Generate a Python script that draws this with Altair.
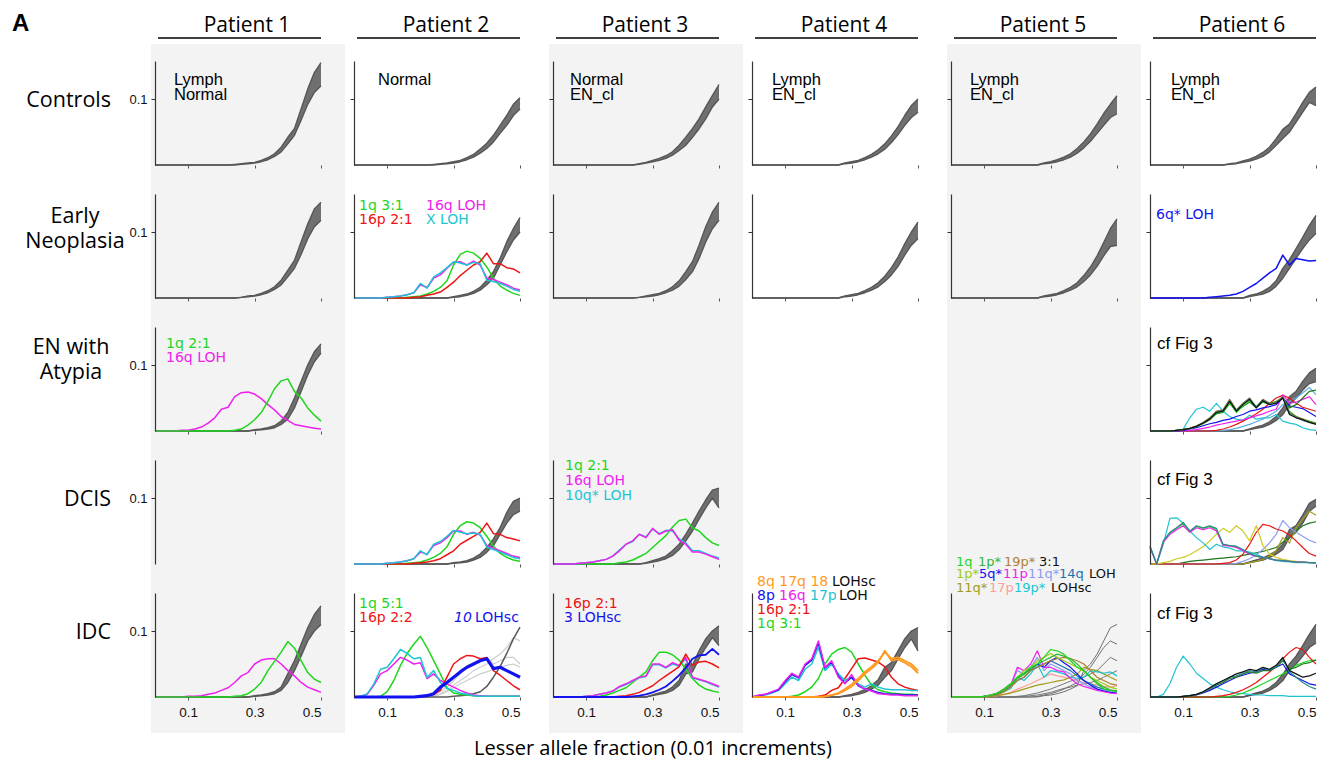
import altair as alt
import pandas as pd

# ---------------- data ----------------
X = [0.00, 0.02, 0.04, 0.06, 0.08, 0.10, 0.12, 0.14, 0.16, 0.18, 0.20, 0.22, 0.24,
     0.26, 0.28, 0.30, 0.32, 0.34, 0.36, 0.38, 0.40, 0.42, 0.44, 0.46, 0.48, 0.50]
X_TICKS = [0.1, 0.3, 0.5]
Y_TICKS = [0.1]
PATIENTS = ["Patient 1", "Patient 2", "Patient 3", "Patient 4", "Patient 5", "Patient 6"]
STAGES = [["Controls"], ["Early", "Neoplasia"], ["EN with", "Atypia"], ["DCIS"], ["IDC"]]
X_TITLE = "Lesser allele fraction (0.01 increments)"

# Controls
P1C_LO = [0,0,0,0,0,0,0,0,0,0,0,0,0,.001,.002,.003,.005,.008,.013,.02,.032,.045,.068,.092,.11,.12]
P1C_HI = [0,0,0,0,0,0,0,0,0,0,0,0,.001,.002,.003,.004,.007,.011,.017,.027,.042,.055,.085,.115,.14,.155]
P2C_LO = [0,0,0,0,0,0,0,0,0,0,0,0,0,.001,.002,.003,.005,.008,.012,.018,.025,.035,.048,.06,.075,.085]
P2C_HI = [0,0,0,0,0,0,0,0,0,0,0,0,.001,.002,.003,.005,.007,.011,.016,.024,.033,.045,.06,.075,.092,.102]
P3C_LO = [0,0,0,0,0,0,0,0,0,0,0,0,0,.001,.003,.005,.007,.01,.015,.022,.03,.042,.055,.07,.088,.1]
P3C_HI = [0,0,0,0,0,0,0,0,0,0,0,0,0,.002,.004,.007,.01,.014,.02,.03,.042,.055,.07,.088,.105,.122]
P4C_LO = [0,0,0,0,0,0,0,0,0,0,0,0,0,0,.002,.003,.005,.008,.012,.017,.024,.034,.046,.06,.072,.08]
P4C_HI = [0,0,0,0,0,0,0,0,0,0,0,0,0,0,.003,.005,.007,.011,.016,.023,.032,.044,.058,.075,.09,.1]
P5C_LO = [0,0,0,0,0,0,0,0,0,0,0,0,0,0,.002,.003,.005,.008,.012,.018,.026,.036,.048,.06,.072,.078]
P5C_HI = [0,0,0,0,0,0,0,0,0,0,0,0,0,0,.003,.005,.008,.012,.017,.025,.035,.047,.062,.078,.092,.105]
P6C_LO = [0,0,0,0,0,0,0,0,0,0,0,0,.001,.002,.004,.006,.009,.013,.02,.03,.04,.05,.065,.08,.095,.09]
P6C_HI = [0,0,0,0,0,0,0,0,0,0,0,0,.002,.003,.006,.009,.013,.019,.027,.04,.054,.062,.078,.095,.11,.118]

# Early neoplasia
P1E_LO = [0,0,0,0,0,0,0,0,0,0,0,0,0,.001,.002,.003,.005,.008,.013,.02,.032,.045,.066,.09,.108,.118]
P1E_HI = [0,0,0,0,0,0,0,0,0,0,0,0,0,.001,.003,.004,.007,.011,.017,.027,.042,.057,.085,.112,.135,.145]
P2E_LO = [0,0,0,0,0,0,0,0,0,0,0,0,0,0,0,.001,.002,.004,.007,.012,.02,.03,.05,.07,.088,.1]
P2E_HI = [0,0,0,0,0,0,0,0,0,0,0,0,0,0,0,.002,.004,.006,.01,.016,.027,.04,.06,.085,.105,.122]
P2E_GREEN = [0,0,0,0,0,0,0,0,.001,.002,.003,.006,.010,.016,.026,.05,.066,.071,.068,.06,.047,.03,.018,.012,.007,.004]
P2E_MAGENTA = [0,0,0,0,0,.001,.002,.003,.005,.008,.02,.016,.03,.035,.045,.054,.055,.05,.056,.05,.03,.028,.024,.02,.015,.012]
P2E_CYAN = [0,0,0,0,0,.001,.002,.003,.005,.008,.022,.015,.032,.038,.046,.055,.053,.05,.054,.052,.027,.025,.022,.018,.013,.010]
P2E_RED = [0,0,0,0,0,0,0,0,0,.001,.002,.004,.006,.009,.016,.024,.034,.042,.05,.055,.068,.052,.052,.046,.044,.038]
P3E_LO = [0,0,0,0,0,0,0,0,0,0,0,0,0,.001,.002,.003,.005,.008,.012,.018,.028,.04,.06,.085,.105,.118]
P3E_HI = [0,0,0,0,0,0,0,0,0,0,0,0,0,.001,.003,.005,.007,.011,.017,.026,.04,.055,.08,.108,.13,.145]
P4E_LO = [0,0,0,0,0,0,0,0,0,0,0,0,0,0,.002,.003,.005,.008,.012,.017,.025,.035,.048,.065,.08,.09]
P4E_HI = [0,0,0,0,0,0,0,0,0,0,0,0,0,0,.003,.005,.007,.011,.016,.023,.033,.046,.062,.082,.1,.115]
P5E_LO = [0,0,0,0,0,0,0,0,0,0,0,0,0,0,.002,.003,.005,.008,.012,.017,.025,.035,.048,.064,.078,.08]
P5E_HI = [0,0,0,0,0,0,0,0,0,0,0,0,0,0,.003,.005,.007,.011,.016,.023,.034,.047,.064,.084,.105,.12]
P6E_LO = [0,0,0,0,0,0,0,0,0,0,0,0,0,0,0,.002,.004,.006,.01,.018,.03,.045,.06,.075,.088,.098]
P6E_HI = [0,0,0,0,0,0,0,0,0,0,0,0,0,0,0,.004,.006,.01,.016,.026,.045,.058,.075,.092,.11,.125]
P6E_BLUE = [0,0,0,0,0,0,0,0,0,.001,.002,.003,.004,.006,.01,.016,.022,.03,.038,.045,.065,.05,.06,.058,.056,.057]

# EN with atypia
P1A_LO = [0,0,0,0,0,0,0,0,0,0,0,0,0,0,0,.001,.002,.003,.005,.01,.018,.035,.06,.085,.105,.118]
P1A_HI = [0,0,0,0,0,0,0,0,0,0,0,0,0,0,0,.002,.003,.005,.008,.015,.028,.05,.075,.1,.12,.132]
P1A_GREEN = [0,0,0,0,0,0,0,0,0,0,0,0,.001,.003,.009,.017,.028,.045,.064,.076,.079,.06,.05,.035,.024,.015]
P1A_MAGENTA = [0,0,0,0,.001,.001,.003,.006,.012,.02,.033,.036,.052,.058,.059,.056,.049,.04,.032,.022,.016,.01,.008,.006,.004,.003]
P6A_LO = [0,0,0,0,0,0,0,0,0,0,0,0,0,0,0,.002,.004,.006,.01,.016,.025,.04,.05,.062,.072,.075]
P6A_HI = [0,0,0,0,0,0,0,0,0,0,0,0,0,0,0,.003,.006,.009,.014,.022,.035,.052,.06,.075,.088,.095]
P6A_CYAN = [0,0,0,0,0,.003,.02,.033,.036,.03,.042,.03,.022,.018,.016,.024,.018,.02,.02,.025,.015,.012,.01,.005,.002,.001]
P6A_BLACK = [0,0,0,0,.001,.002,.004,.007,.012,.018,.028,.03,.045,.03,.04,.048,.035,.046,.04,.042,.05,.025,.02,.017,.013,.01]
P6A_BROWN = [0,0,0,0,.001,.002,.004,.008,.013,.02,.03,.032,.048,.032,.042,.05,.036,.048,.042,.044,.052,.028,.022,.018,.014,.012]
P6A_GREEN = [0,0,0,0,.001,.002,.004,.007,.012,.018,.027,.029,.043,.028,.038,.046,.036,.045,.042,.045,.05,.03,.022,.018,.015,.012]
P6A_TEAL = [0,0,0,0,.001,.002,.004,.007,.012,.019,.029,.031,.046,.031,.041,.049,.037,.047,.041,.043,.051,.027,.021,.016,.013,.011]
P6A_DKGREEN = [0,0,0,0,.001,.002,.004,.007,.011,.017,.026,.028,.042,.03,.037,.044,.035,.044,.04,.043,.05,.035,.04,.05,.06,.062]
P6A_BLUE = [0,0,0,0,0,.001,.003,.005,.008,.011,.013,.016,.018,.022,.025,.03,.032,.035,.037,.04,.05,.038,.036,.034,.028,.022]
P6A_MAGENTA = [0,0,0,0,0,0,.001,.002,.004,.006,.009,.011,.013,.015,.017,.02,.023,.026,.03,.033,.055,.042,.044,.048,.052,.04]
P6A_RED = [0,0,0,0,0,0,0,0,0,0,.001,.003,.006,.01,.015,.02,.026,.033,.042,.05,.054,.05,.042,.036,.033,.03]
P6A_LTBLUE = [0,0,0,0,0,0,0,0,0,0,0,.001,.002,.004,.007,.01,.014,.018,.024,.03,.04,.045,.05,.058,.066,.055]

# DCIS
P2D_LO = [0,0,0,0,0,0,0,0,0,0,0,0,0,0,0,.001,.002,.003,.006,.01,.018,.028,.045,.062,.075,.08]
P2D_HI = [0,0,0,0,0,0,0,0,0,0,0,0,0,0,0,.002,.003,.005,.009,.015,.025,.038,.055,.078,.095,.1]
P2D_GREEN = [0,0,0,0,0,0,0,0,.001,.002,.003,.006,.01,.016,.026,.045,.058,.064,.062,.055,.042,.027,.016,.01,.006,.004]
P2D_MAGENTA = [0,0,0,0,0,.001,.002,.003,.005,.008,.018,.015,.028,.032,.04,.05,.05,.045,.048,.044,.028,.024,.02,.016,.012,.01]
P2D_CYAN = [0,0,0,0,0,.001,.002,.003,.005,.008,.02,.014,.03,.034,.042,.051,.048,.046,.047,.045,.026,.022,.018,.014,.01,.008]
P2D_RED = [0,0,0,0,0,0,0,0,0,.001,.002,.003,.005,.008,.014,.02,.03,.036,.042,.048,.062,.046,.045,.04,.038,.035]
P3D_LO = [0,0,0,0,0,0,0,0,0,0,0,0,0,0,.001,.003,.005,.008,.013,.022,.035,.05,.068,.085,.1,.085]
P3D_HI = [0,0,0,0,0,0,0,0,0,0,0,0,0,0,.002,.005,.008,.012,.02,.03,.045,.062,.08,.097,.112,.115]
P3D_GREEN = [0,0,0,0,0,0,0,0,0,0,.002,.003,.006,.011,.016,.025,.034,.043,.056,.066,.068,.055,.05,.04,.032,.028]
P3D_MAGENTA = [0,0,0,0,.001,.002,.003,.005,.007,.012,.02,.03,.035,.045,.04,.054,.045,.05,.052,.036,.03,.018,.018,.015,.011,.007]
P3D_CYAN = [0,0,0,0,.001,.002,.003,.005,.007,.012,.021,.03,.034,.045,.041,.053,.046,.051,.05,.038,.032,.02,.02,.016,.012,.009]
P6D_LO = [0,0,0,0,0,0,0,0,0,0,0,0,0,0,0,.002,.004,.006,.01,.015,.022,.04,.048,.062,.08,.088]
P6D_HI = [0,0,0,0,0,0,0,0,0,0,0,0,0,0,0,.003,.006,.009,.014,.02,.03,.052,.058,.074,.092,.098]
P6D_CYAN = [.027,0,.03,.069,.07,.062,.05,.04,.032,.022,.03,.026,.024,.02,.02,.018,.015,.01,.008,.005,.004,.003,.002,.002,.002,.001]
P6D_TEAL = [.027,0,.035,.048,.055,.063,.05,.058,.055,.058,.054,.03,.028,.027,.022,.016,.012,.01,.008,.006,.005,.004,.003,.003,.002,.002]
P6D_MAGENTA = [.025,0,.033,.045,.052,.058,.048,.055,.052,.055,.05,.028,.027,.025,.02,.015,.012,.01,.008,.006,.005,.004,.003,.003,.002,.002]
P6D_GREEN = [.026,0,.034,.047,.054,.061,.049,.057,.054,.057,.052,.029,.028,.026,.021,.016,.012,.01,.008,.006,.005,.004,.003,.003,.002,.002]
P6D_YELLOW = [0,0,.002,.004,.008,.01,.014,.02,.026,.035,.045,.054,.048,.058,.05,.035,.058,.028,.015,.01,.007,.005,.004,.003,.002,.002]
P6D_RED = [0,0,0,0,0,0,0,0,0,0,0,.001,.002,.006,.015,.03,.048,.06,.058,.053,.05,.044,.035,.025,.016,.012]
P6D_LTBLUE = [0,0,0,0,0,0,0,0,0,0,0,0,0,.001,.004,.008,.014,.022,.032,.045,.066,.055,.048,.042,.036,.032]
P6D_DKGREEN = [0,0,0,0,0,.002,.004,.005,.006,.007,.008,.009,.01,.011,.013,.015,.017,.019,.022,.025,.033,.04,.05,.058,.062,.064]
P6D_OLIVE = [0,0,0,0,0,0,0,0,0,0,0,0,0,0,0,.002,.004,.007,.012,.02,.04,.032,.055,.068,.08,.074]

# IDC
P1I_LO = [0,0,0,0,0,0,0,0,0,0,0,0,0,0,0,.001,.002,.003,.005,.01,.022,.04,.062,.085,.1,.11]
P1I_HI = [0,0,0,0,0,0,0,0,0,0,0,0,0,0,0,.002,.003,.005,.008,.015,.035,.055,.08,.105,.125,.138]
P1I_MAGENTA = [0,0,0,0,0,.001,.001,.002,.004,.006,.01,.014,.022,.032,.037,.05,.056,.058,.058,.05,.04,.032,.022,.015,.011,.007]
P1I_GREEN = [0,0,0,0,0,0,0,0,0,0,0,0,.001,.002,.005,.012,.022,.04,.054,.068,.084,.074,.055,.037,.027,.022]
P2I_CYAN = [0,.001,.005,.02,.042,.045,.058,.072,.066,.058,.06,.03,.04,.022,.013,.01,.006,.004,.002,.001,.001,.001,.001,.001,.001,.001]
P2I_MAGENTA = [0,.001,.004,.018,.035,.04,.05,.06,.056,.05,.052,.028,.035,.025,.02,.015,.01,.006,.003,.002,.001,.001,.001,.001,.001,.001]
P2I_GREEN = [0,0,0,0,.001,.008,.025,.048,.066,.08,.092,.075,.055,.035,.014,.006,.004,.003,.002,.001,.001,.001,.001,.001,.001,.001]
P2I_RED = [0,0,0,0,0,0,0,0,0,0,.001,.002,.004,.01,.03,.05,.058,.063,.062,.058,.06,.04,.033,.025,.017,.011]
P2I_BLUE = [0,0,0,0,0,0,0,0,0,0,.001,.002,.005,.015,.022,.03,.038,.045,.05,.055,.058,.043,.045,.04,.035,.03]
P2I_LG1 = [0,0,0,0,0,0,0,0,0,0,0,.001,.002,.005,.01,.018,.025,.032,.04,.045,.05,.058,.065,.075,.09,.085]
P2I_LG2 = [0,0,0,0,0,0,0,0,0,0,0,.001,.003,.008,.015,.025,.035,.045,.05,.055,.06,.05,.055,.06,.06,.05]
P2I_LG3 = [0,0,0,0,0,0,0,0,0,0,0,0,.001,.004,.008,.014,.02,.025,.03,.035,.038,.042,.045,.048,.05,.045]
P2I_DARK = [0,0,0,0,0,0,0,0,0,0,0,0,0,0,0,.001,.002,.003,.005,.008,.016,.03,.046,.066,.088,.106]
P3I_LO = [0,0,0,0,0,0,0,0,0,0,0,0,0,0,0,.002,.004,.006,.01,.018,.035,.038,.058,.075,.09,.078]
P3I_HI = [0,0,0,0,0,0,0,0,0,0,0,0,0,0,0,.003,.006,.009,.015,.025,.05,.048,.07,.088,.1,.108]
P3I_MAGENTA = [0,0,0,0,0,.001,.002,.004,.006,.009,.016,.02,.025,.03,.032,.05,.05,.045,.052,.048,.06,.03,.027,.024,.02,.016]
P3I_CYAN = [0,0,0,0,0,.001,.002,.004,.006,.009,.015,.019,.024,.029,.031,.049,.049,.044,.05,.047,.058,.029,.026,.023,.019,.015]
P3I_GREEN = [0,0,0,0,0,0,0,.001,.003,.006,.01,.014,.022,.03,.038,.055,.068,.068,.064,.056,.042,.028,.018,.012,.009,.007]
P3I_RED = [0,0,0,0,0,0,0,0,0,0,.001,.002,.004,.007,.012,.017,.025,.032,.039,.046,.065,.048,.053,.054,.05,.044]
P3I_BLUE = [0,0,0,0,0,0,0,0,0,0,0,0,.001,.002,.004,.007,.011,.016,.024,.033,.044,.058,.063,.064,.073,.064]
P4I_LO = [0,0,0,0,0,0,0,0,0,0,0,0,0,0,.001,.002,.004,.007,.012,.018,.03,.04,.058,.075,.088,.07]
P4I_HI = [0,0,0,0,0,0,0,0,0,0,0,0,0,0,.002,.004,.007,.011,.017,.026,.045,.052,.07,.088,.1,.105]
P4I_MAGENTA = [0,.003,.004,.008,.012,.025,.036,.03,.05,.058,.085,.045,.055,.03,.02,.034,.018,.012,.009,.005,.004,.003,.003,.002,.002,.002]
P4I_BLUE = [0,.002,.004,.007,.011,.023,.034,.029,.048,.056,.082,.044,.053,.032,.021,.03,.017,.012,.01,.007,.005,.004,.004,.003,.003,.003]
P4I_CYAN = [0,.002,.003,.006,.01,.02,.03,.025,.042,.05,.075,.04,.05,.035,.025,.03,.02,.015,.02,.015,.012,.011,.011,.011,.01,.01]
P4I_GREEN = [0,0,0,0,0,0,.001,.003,.008,.015,.028,.05,.065,.072,.075,.068,.05,.033,.018,.011,.008,.006,.005,.004,.004,.003]
P4I_RED = [0,0,0,0,0,0,0,0,0,0,.001,.003,.01,.014,.028,.043,.058,.059,.056,.053,.046,.03,.02,.015,.012,.01]
P4I_ORANGE1 = [0,0,0,0,0,0,0,0,0,0,0,.001,.003,.006,.012,.019,.028,.038,.046,.055,.068,.058,.06,.055,.05,.04]
P4I_ORANGE2 = [0,0,0,0,0,0,0,0,0,0,0,.001,.003,.005,.01,.016,.025,.035,.043,.052,.07,.055,.057,.052,.046,.036]
P5I_G1 = [0,0,0,0,0,0,0,0,0,0,0,.001,.002,.003,.005,.007,.01,.013,.015,.018,.02,.022,.025,.03,.035,.04]
P5I_G2 = [0,0,0,0,0,0,0,0,0,0,.001,.002,.004,.006,.009,.012,.016,.02,.024,.027,.03,.035,.04,.05,.06,.055]
P5I_G3 = [0,0,0,0,0,0,0,0,0,0,0,0,0,.001,.003,.005,.008,.012,.017,.022,.035,.045,.06,.075,.085,.08]
P5I_G4 = [0,0,0,0,0,0,0,0,0,0,0,0,0,0,.002,.003,.005,.008,.012,.017,.04,.05,.065,.085,.105,.11]
P5I_GREEN = [0,0,0,0,0,.001,.003,.006,.012,.02,.03,.036,.045,.05,.06,.072,.07,.065,.055,.045,.04,.03,.02,.012,.01,.008]
P5I_DKGREEN = [0,0,0,0,0,.001,.002,.005,.01,.018,.028,.034,.042,.05,.055,.06,.065,.062,.058,.05,.04,.03,.022,.015,.011,.009]
P5I_BROWN = [0,0,0,0,0,0,.001,.003,.008,.015,.025,.03,.04,.045,.05,.055,.058,.06,.058,.055,.05,.04,.03,.025,.02,.018]
P5I_YLGREEN = [0,0,0,0,0,.001,.003,.006,.012,.02,.03,.04,.045,.055,.06,.066,.06,.055,.05,.045,.04,.03,.025,.02,.015,.012]
P5I_BLUE = [0,0,0,0,0,.001,.003,.006,.012,.02,.03,.036,.042,.05,.045,.055,.06,.052,.045,.035,.025,.018,.012,.009,.007,.006]
P5I_MAGENTA = [0,0,0,0,0,.001,.003,.006,.012,.018,.045,.04,.05,.07,.045,.045,.04,.038,.028,.02,.016,.013,.01,.008,.006,.005]
P5I_LTBLUE = [0,0,0,0,0,.001,.003,.006,.011,.018,.04,.035,.045,.06,.04,.05,.045,.04,.035,.025,.02,.015,.012,.01,.009,.008]
P5I_STEEL = [0,0,0,0,0,.001,.002,.005,.01,.016,.025,.03,.04,.045,.05,.055,.05,.045,.04,.032,.025,.02,.015,.012,.01,.009]
P5I_OLIVE = [0,0,0,0,0,0,.001,.002,.004,.006,.009,.012,.015,.018,.02,.022,.024,.026,.03,.035,.045,.042,.04,.035,.03,.025]
P5I_SALMON = [0,0,0,0,0,0,.001,.002,.004,.007,.012,.016,.02,.025,.03,.035,.032,.03,.028,.025,.022,.02,.018,.016,.015,.017]
P5I_CYAN = [0,0,0,0,0,.001,.002,.004,.008,.013,.03,.025,.035,.05,.03,.04,.038,.035,.03,.028,.03,.04,.038,.036,.038,.032]
P6I_LO = [0,0,0,0,0,0,0,0,0,0,0,0,0,0,0,.002,.004,.006,.01,.016,.025,.04,.05,.062,.075,.082]
P6I_HI = [0,0,0,0,0,0,0,0,0,0,0,0,0,0,0,.003,.006,.009,.014,.022,.034,.05,.062,.078,.095,.11]
P6I_CYAN = [0,0,.004,.02,.045,.062,.05,.036,.028,.02,.015,.011,.008,.006,.005,.004,.003,.003,.002,.002,.002,.001,.001,.001,.001,.001]
P6I_BLACK = [0,0,0,0,0,.001,.002,.004,.008,.014,.02,.025,.03,.035,.038,.042,.04,.045,.042,.048,.06,.04,.035,.03,.032,.036]
P6I_DKGREEN = [0,0,0,0,0,.001,.002,.004,.007,.012,.018,.022,.028,.03,.035,.038,.036,.04,.04,.045,.055,.042,.045,.05,.052,.056]
P6I_BLUE = [0,0,0,0,0,.001,.002,.003,.006,.01,.015,.02,.025,.03,.033,.036,.038,.042,.04,.045,.05,.035,.03,.025,.02,.018]
P6I_TEAL = [0,0,0,0,0,.001,.002,.004,.008,.013,.02,.024,.03,.032,.036,.04,.038,.044,.041,.046,.058,.038,.03,.022,.016,.012]
P6I_RED = [0,0,0,0,0,0,0,0,0,0,.001,.002,.004,.007,.011,.016,.022,.03,.038,.046,.058,.068,.075,.072,.06,.05]
P6I_GREEN = [0,0,0,0,0,0,0,0,0,0,0,0,.001,.003,.006,.01,.015,.02,.025,.03,.035,.04,.048,.052,.055,.056]

# ---------------- styling ----------------
W, H = 166, 104
YMAX = 0.1576
GRAY_COLS = {0, 2, 4}
F_HEAD = "Open Sans"
F_LAB = "DejaVu Sans"
F_NOTE = "Liberation Sans"

GREEN = "#1fd61f"; RED = "#ee1414"; MAGENTA = "#ee22ee"; CYAN = "#1ec4d2"; BLUE = "#1212ee"
ORANGE = "#ff9a1e"; BLACK = "#111111"; DKGREEN = "#1d7a1d"; BROWN = "#a0642a"; TEAL = "#2a8a8a"
YLGREEN = "#9ccc12"; LTBLUE = "#8c9cf2"; STEEL = "#1f70b0"; OLIVE = "#a29c1c"; SALMON = "#ff9c9c"
YELLOW = "#cccc22"; LGRAY = "#cdcdcd"; DGRAY = "#5a5a5a"; BANDLINE = "#575757"; BANDFILL = "#707070"
P5BROWN = "#b07f30"
LAB_SIZE = 14


def cnote(lines, x):
    return (lines, "#000000", x, 24, F_NOTE, 16.5, "normal", 15)


def lab(t, color, x, y, size=LAB_SIZE, style="normal"):
    return (t, color, x, y, F_LAB, size, style, 16)


def cf(y):
    return ("cf Fig 3", "#000000", 7, y, F_NOTE, 17, "normal", 16)


CELLS = {
    (0, 0): {"band": (P1C_LO, P1C_HI), "notes": [cnote(["Lymph", "Normal"], 19)]},
    (0, 1): {"band": (P2C_LO, P2C_HI), "notes": [cnote(["Normal"], 24)]},
    (0, 2): {"band": (P3C_LO, P3C_HI), "notes": [cnote(["Normal", "EN_cl"], 17)]},
    (0, 3): {"band": (P4C_LO, P4C_HI), "notes": [cnote(["Lymph", "EN_cl"], 20)]},
    (0, 4): {"band": (P5C_LO, P5C_HI), "notes": [cnote(["Lymph", "EN_cl"], 19)]},
    (0, 5): {"band": (P6C_LO, P6C_HI), "notes": [cnote(["Lymph", "EN_cl"], 21)]},
    (1, 0): {"band": (P1E_LO, P1E_HI)},
    (1, 1): {"band": (P2E_LO, P2E_HI),
             "lines": [(P2E_GREEN, GREEN, 1.5), (P2E_RED, RED, 1.5), (P2E_MAGENTA, MAGENTA, 1.5), (P2E_CYAN, CYAN, 1.5)],
             "notes": [lab("1q 3:1", GREEN, 5, 16), lab("16p 2:1", RED, 5, 30),
                       lab("16q LOH", MAGENTA, 72, 16), lab("X LOH", CYAN, 72, 30)]},
    (1, 2): {"band": (P3E_LO, P3E_HI)},
    (1, 3): {"band": (P4E_LO, P4E_HI)},
    (1, 4): {"band": (P5E_LO, P5E_HI)},
    (1, 5): {"band": (P6E_LO, P6E_HI), "lines": [(P6E_BLUE, BLUE, 1.5)],
             "notes": [lab("6q* LOH", BLUE, 6, 25)]},
    (2, 0): {"band": (P1A_LO, P1A_HI), "lines": [(P1A_MAGENTA, MAGENTA, 1.5), (P1A_GREEN, GREEN, 1.5)],
             "notes": [lab("1q 2:1", GREEN, 11, 21), lab("16q LOH", MAGENTA, 11, 35)]},
    (2, 5): {"band": (P6A_LO, P6A_HI),
             "lines": [(P6A_CYAN, CYAN, 1.2), (P6A_LTBLUE, "#5aaee0", 1.2), (P6A_RED, RED, 1.2),
                       (P6A_MAGENTA, MAGENTA, 1.2), (P6A_BLUE, BLUE, 1.2), (P6A_DKGREEN, DKGREEN, 1.2),
                       (P6A_GREEN, GREEN, 1.2), (P6A_BROWN, BROWN, 1.2), (P6A_TEAL, TEAL, 1.2),
                       (P6A_BLACK, BLACK, 1.2)],
             "notes": [cf(22)]},
    (3, 0): {"axis_only": True},
    (3, 1): {"band": (P2D_LO, P2D_HI), "no_y": True,
             "lines": [(P2D_GREEN, GREEN, 1.5), (P2D_RED, RED, 1.5), (P2D_MAGENTA, MAGENTA, 1.5), (P2D_CYAN, CYAN, 1.5)]},
    (3, 2): {"band": (P3D_LO, P3D_HI),
             "lines": [(P3D_GREEN, GREEN, 1.5), (P3D_CYAN, CYAN, 1.5), (P3D_MAGENTA, MAGENTA, 1.5)],
             "notes": [lab("1q 2:1", GREEN, 12, 10), lab("16q LOH", MAGENTA, 12, 25), lab("10q* LOH", CYAN, 12, 40)]},
    (3, 5): {"band": (P6D_LO, P6D_HI),
             "lines": [(P6D_DKGREEN, DKGREEN, 1.2), (P6D_OLIVE, OLIVE, 1.2), (P6D_LTBLUE, LTBLUE, 1.2),
                       (P6D_RED, RED, 1.2), (P6D_YELLOW, YELLOW, 1.2), (P6D_CYAN, CYAN, 1.2),
                       (P6D_GREEN, GREEN, 1.2), (P6D_MAGENTA, MAGENTA, 1.2), (P6D_TEAL, TEAL, 1.2)],
             "notes": [cf(25)]},
    (4, 0): {"band": (P1I_LO, P1I_HI), "lines": [(P1I_MAGENTA, MAGENTA, 1.5), (P1I_GREEN, GREEN, 1.5)]},
    (4, 1): {"lines": [(P2I_LG1, LGRAY, 1.2), (P2I_LG2, LGRAY, 1.2), (P2I_LG3, LGRAY, 1.2),
                       (P2I_DARK, DGRAY, 1.5), (P2I_GREEN, GREEN, 1.5), (P2I_MAGENTA, MAGENTA, 1.5),
                       (P2I_CYAN, CYAN, 1.5), (P2I_RED, RED, 1.5), (P2I_BLUE, BLUE, 3.2)],
             "notes": [lab("1q 5:1", GREEN, 5, 15), lab("16p 2:2", RED, 5, 29),
                       lab("10", BLUE, 100, 29, style="italic"), lab("LOHsc", BLUE, 121, 29)]},
    (4, 2): {"band": (P3I_LO, P3I_HI),
             "lines": [(P3I_GREEN, GREEN, 1.5), (P3I_CYAN, CYAN, 1.5), (P3I_MAGENTA, MAGENTA, 1.5),
                       (P3I_RED, RED, 1.5), (P3I_BLUE, BLUE, 1.8)],
             "notes": [lab("16p 2:1", RED, 11, 15), lab("3 LOHsc", BLUE, 11, 29)]},
    (4, 3): {"band": (P4I_LO, P4I_HI),
             "lines": [(P4I_GREEN, GREEN, 1.5), (P4I_RED, RED, 1.5), (P4I_CYAN, CYAN, 1.5),
                       (P4I_BLUE, BLUE, 1.5), (P4I_MAGENTA, MAGENTA, 1.5),
                       (P4I_ORANGE1, ORANGE, 1.8), (P4I_ORANGE2, ORANGE, 1.8)],
             "notes": [lab("8q 17q 18", ORANGE, 5, -7), lab("LOHsc", BLACK, 80, -7),
                       lab("8p", BLUE, 5, 7), lab("16q", MAGENTA, 27, 7), lab("17p", CYAN, 58, 7),
                       lab("LOH", BLACK, 87, 7), lab("16p 2:1", RED, 5, 21), lab("1q 3:1", GREEN, 5, 35)]},
    (4, 4): {"lines": [(P5I_G1, "#777777", 1.0), (P5I_G2, "#777777", 1.0), (P5I_G3, "#707070", 1.0),
                       (P5I_G4, "#707070", 1.0),
                       (P5I_SALMON, SALMON, 1.2), (P5I_OLIVE, OLIVE, 1.2), (P5I_CYAN, CYAN, 1.2),
                       (P5I_STEEL, STEEL, 1.2), (P5I_LTBLUE, LTBLUE, 1.2), (P5I_BLUE, BLUE, 1.2),
                       (P5I_MAGENTA, MAGENTA, 1.2), (P5I_BROWN, P5BROWN, 1.2), (P5I_YLGREEN, YLGREEN, 1.2),
                       (P5I_DKGREEN, "#33b533", 1.2), (P5I_GREEN, GREEN, 1.2)],
             "notes": [lab("1q", GREEN, 5, -27, 13), lab("1p*", "#33b533", 27, -27, 13),
                       lab("19p*", P5BROWN, 53, -27, 13), lab("3:1", BLACK, 88, -27, 13),
                       lab("1p*", YLGREEN, 5, -15, 13), lab("5q*", BLUE, 28, -15, 13),
                       lab("11p", MAGENTA, 52, -15, 13), lab("11q*", LTBLUE, 77, -15, 13),
                       lab("14q", STEEL, 108, -15, 13), lab("LOH", BLACK, 138, -15, 13),
                       lab("11q*", OLIVE, 5, -1, 13), lab("17p", SALMON, 38, -1, 13),
                       lab("19p*", CYAN, 63, -1, 13), lab("LOHsc", BLACK, 100, -1, 13)]},
    (4, 5): {"band": (P6I_LO, P6I_HI),
             "lines": [(P6I_CYAN, CYAN, 1.2), (P6I_GREEN, GREEN, 1.2), (P6I_RED, RED, 1.2),
                       (P6I_BLUE, BLUE, 1.2), (P6I_DKGREEN, DKGREEN, 1.2), (P6I_TEAL, TEAL, 1.2),
                       (P6I_BLACK, BLACK, 1.2)],
             "notes": [cf(26)]},
}

# row label placement: (x, y, align)
ROW_LABEL_POS = [(-44, 46, "right"), (-80, 29, "center"), (-84, 27, "center"), (-44, 46, "right"), (-44, 46, "right")]

ONE = pd.DataFrame({"a": [0]})
XS = alt.Scale(domain=[0, 0.5], nice=False, zero=False)
YS = alt.Scale(domain=[0, YMAX], nice=False)


def check(arr):
    if len(arr) != len(X):
        raise ValueError("bad length %d" % len(arr))
    return arr


def text_layer(t, color, x, y, font, size, style="normal", lh=16, align="left", weight="normal"):
    return alt.Chart(ONE).mark_text(
        text=t, color=color, font=font, fontSize=size, fontStyle=style, fontWeight=weight,
        align=align, baseline="alphabetic", lineHeight=lh,
    ).encode(x=alt.value(x), y=alt.value(y))


def cell(r, c):
    spec = CELLS.get((r, c), {})
    layers = []
    if c in GRAY_COLS:
        y0 = -17 if r == 0 else -15
        y1 = H + 36 if r == 4 else H + 15
        layers.append(alt.Chart(ONE).mark_rect(color="#f3f3f3").encode(
            x=alt.value(-4), x2=alt.value(W + 24), y=alt.value(y0), y2=alt.value(y1)))

    xaxis = alt.Axis(values=X_TICKS, format=".1f", grid=False, domain=False, ticks=True, tickSize=3,
                     tickColor="#555555", labels=(r == 4), labelFont=F_NOTE, labelFontSize=13.5,
                     labelColor="#111111", labelPadding=5, labelFlush=True, title=None, zindex=1)
    if spec.get("no_y"):
        yaxis = None
    else:
        yaxis = alt.Axis(values=Y_TICKS, format=".1f", grid=False, domain=True, domainColor="#333333",
                         domainWidth=1.2, ticks=True, tickSize=4, tickColor="#333333",
                         labels=(c == 0), labelFont=F_NOTE, labelFontSize=13, labelColor="#111111",
                         labelPadding=4, title=None, zindex=1)
    xenc = alt.X("x:Q", scale=XS, axis=xaxis)
    yenc = alt.Y("y:Q", scale=YS, axis=yaxis)

    if spec.get("axis_only"):
        layers.append(alt.Chart(pd.DataFrame({"y": Y_TICKS})).mark_point(opacity=0).encode(y=yenc))

    band = spec.get("band")
    parts = []
    if band:
        bdf = pd.DataFrame({"x": X, "y": check(band[0]), "hi": check(band[1])})
        layers.append(alt.Chart(bdf).mark_area(color=BANDFILL).encode(x=xenc, y=yenc, y2="hi:Q"))
        parts.append(pd.DataFrame({"x": X, "y": band[0], "k": "00", "col": BANDLINE, "w": 1.4}))
        parts.append(pd.DataFrame({"x": X, "y": band[1], "k": "01", "col": BANDLINE, "w": 1.4}))
    for i, (arr, col, w) in enumerate(spec.get("lines", [])):
        parts.append(pd.DataFrame({"x": X, "y": check(arr), "k": "%02d" % (i + 2), "col": col, "w": w}))
    if parts:
        ldf = pd.concat(parts, ignore_index=True)
        layers.append(alt.Chart(ldf).mark_line(strokeJoin="round").encode(
            x=xenc, y=yenc, detail="k:N",
            color=alt.Color("col:N", scale=None),
            strokeWidth=alt.StrokeWidth("w:Q", scale=None)))

    for (t, color, x, y, font, size, style, lh) in spec.get("notes", []):
        layers.append(text_layer(t, color, x, y, font, size, style, lh))

    if r == 0:
        layers.append(text_layer(PATIENTS[c], "#000000", 92, -29, F_HEAD, 21, align="center"))
        layers.append(alt.Chart(ONE).mark_rule(color="#000000", strokeWidth=1.5).encode(
            x=alt.value(3), x2=alt.value(166), y=alt.value(-23)))
        if c == 0:
            layers.append(text_layer("A", "#000000", -143, -30, F_NOTE, 24, weight="bold"))
    if c == 0:
        lx, ly, al = ROW_LABEL_POS[r]
        lines = STAGES[r]
        layers.append(text_layer(lines if len(lines) > 1 else lines[0], "#000000", lx, ly, F_HEAD, 21.5,
                                 lh=25, align=al))
    if r == 4 and c == 2:
        layers.append(text_layer(X_TITLE, "#000000", 100, 162, F_HEAD, 20, align="center"))

    if not layers:
        layers.append(alt.Chart(ONE).mark_rect(opacity=0).encode(
            x=alt.value(0), x2=alt.value(1), y=alt.value(0), y2=alt.value(1)))
    return alt.layer(*layers).properties(width=W, height=H)


charts = [cell(r, c) for r in range(5) for c in range(6)]
chart = alt.concat(*charts, columns=6, spacing={"row": 29, "column": 33}, bounds="flush", align="all").properties(
    padding={"left": 4, "top": 4, "right": 0, "bottom": 3},
    background="white",
).configure_view(stroke=None)

chart.save("out.html", embed_options={"renderer": "svg", "actions": False})
